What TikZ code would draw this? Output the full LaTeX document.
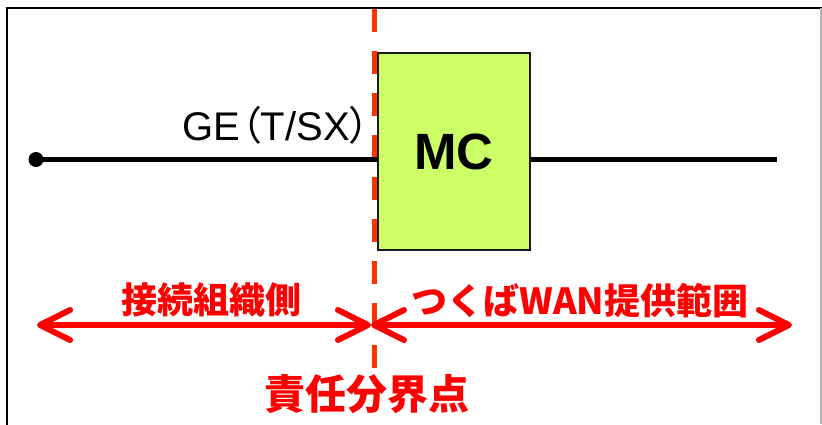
\documentclass[tikz,border=0pt]{standalone}
\usepackage{fontspec}
\setmainfont{Liberation Sans}
\newfontfamily\jp{Noto Sans CJK JP}
\newfontfamily\jpp[RawFeature=+palt]{Noto Sans CJK JP}
\usetikzlibrary{arrows.meta}
\definecolor{mcgreen}{HTML}{CCFF66}
\definecolor{respred}{HTML}{FF3300}
\begin{document}
\begin{tikzpicture}[x=1pt,y=-1pt,
  wire/.style={line width=5pt, black},
  resp/.style={line width=5.5pt, color=respred, dash pattern=on 23pt off 19pt},
  span/.style={line width=6pt, red, {Straight Barb[length=30pt,width=30pt,round]}-{Straight Barb[length=30pt,width=30pt,round]}},
  lbl/.style={text=red, font=\jp\bfseries\fontsize{36}{40}\selectfont, inner sep=0pt},
  mcbox/.style={draw=black!90, line width=1.5pt, fill=mcgreen, minimum width=152pt, minimum height=197pt, inner sep=0pt, font=\bfseries\fontsize{51}{51}\selectfont},
  dotnode/.style={circle, fill=black, inner sep=0pt, minimum size=15pt}]
\useasboundingbox (0,0) rectangle (822,424);
% frame
\draw[line width=2pt] (6.5,440) -- (6.5,8) -- (822,8);
\draw[gray!60, line width=1.2pt] (821,8) -- (821,424);
% responsibility boundary
\coordinate (rtop) at (374.5,9);
\coordinate (rbot) at (374.5,368);
\draw[resp] (rtop) -- (rbot);
% box and wire
\node[mcbox] (mc) at (454,151.5) {MC};
\node[dotnode] (dot) at (36,159.5) {};
\coordinate (wend) at (777,159.5);
\draw[wire] (dot.center) -- (dot.center -| mc.west);
\draw[wire] (wend -| mc.east) -- (wend);
\node[anchor=base east, inner sep=0pt, font=\fontsize{40}{40}\selectfont] (ge) at (370,140) {GE\kern1pt{\jpp（}T/SX{\jpp）}};
% spans
\coordinate (la) at (37,325);
\coordinate (lb) at (371,325);
\coordinate (ra) at (371,325);
\coordinate (rb) at (792,325);
\draw[span] (la) -- (lb);
\draw[span] (ra) -- (rb);
\node[lbl] (left) at (211,300) {接続組織側};
\node[lbl] (right) at (580,301) {つくばWAN提供範囲};
\node[lbl, font=\jp\bfseries\fontsize{41}{44}\selectfont] (bp) at (367,394) {責任分界点};
\end{tikzpicture}
\end{document}
